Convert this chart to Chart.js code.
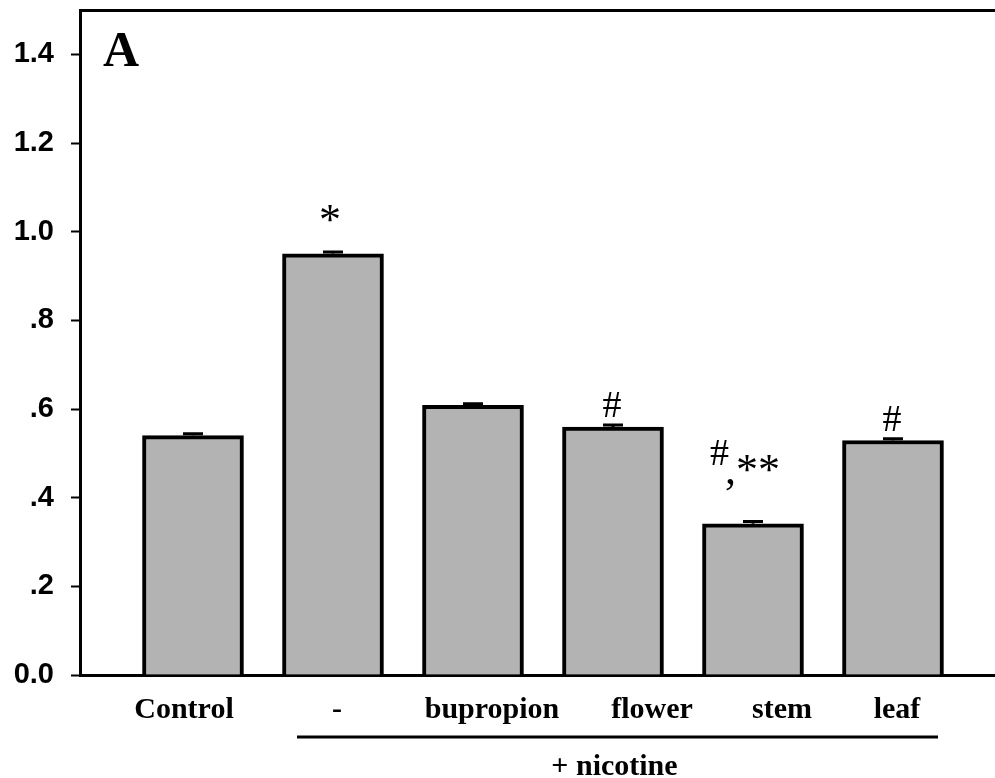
<!DOCTYPE html>
<html>
<head>
<meta charset="utf-8">
<script src="https://cdn.jsdelivr.net/npm/chart.js@4/dist/chart.umd.min.js"></script>
<style>
  html, body { margin: 0; padding: 0; background: #fff; }
  #wrap { width: 995px; height: 778px; }
</style>
</head>
<body>
<div id="wrap"><canvas id="c" width="995" height="778"></canvas></div>
<script>
// ---- data ----
const categories = ['Control', '-', 'bupropion', 'flower', 'stem', 'leaf'];
const values = [0.54, 0.95, 0.608, 0.559, 0.341, 0.529];
const errors = [0.004, 0.004, 0.004, 0.005, 0.005, 0.004];
const marks = ['', '*', '', '#', '#,**', '#'];
const yTicks = [0, 0.2, 0.4, 0.6, 0.8, 1.0, 1.2, 1.4];
const yTickLabels = ['0.0', '.2', '.4', '.6', '.8', '1.0', '1.2', '1.4'];
const panelLabel = 'A';
const groupLabel = '+ nicotine';

const SERIF = '"Liberation Serif", "Times New Roman", serif';
const SANS = '"Liberation Sans", Arial, sans-serif';
// layout: horizontal nudges (px) of category labels relative to their bars
const LABEL_NUDGE_PX = [-9, 4, 19, 39, 29, 4];
const PX_PER_UNIT = 140;

const decor = {
  id: 'decor',
  afterDatasetsDraw(chart) {
    const ctx = chart.ctx;
    const x = chart.scales.x, y = chart.scales.y;
    const ca = chart.chartArea;
    ctx.save();
    // error caps
    ctx.strokeStyle = '#000';
    ctx.lineWidth = 3;
    values.forEach((v, i) => {
      const px = x.getPixelForValue(i);
      const top = y.getPixelForValue(v + errors[i]);
      const base = y.getPixelForValue(v);
      ctx.beginPath();
      ctx.moveTo(px - 10, top);
      ctx.lineTo(px + 10, top);
      ctx.moveTo(px, top);
      ctx.lineTo(px, base);
      ctx.stroke();
    });
    // significance marks
    ctx.fillStyle = '#000';
    ctx.textBaseline = 'alphabetic';
    values.forEach((v, i) => {
      const m = marks[i];
      if (!m) return;
      const px = x.getPixelForValue(i);
      const top = y.getPixelForValue(v + errors[i]);
      if (m === '#,**') {
        ctx.textAlign = 'left';
        ctx.font = '38px ' + SERIF;
        ctx.fillText('#', px - 43, top - 57);
        ctx.font = '44px ' + SERIF;
        ctx.fillText(',**', px - 28, top - 38);
      } else if (m === '*') {
        ctx.textAlign = 'center';
        ctx.font = '44px ' + SERIF;
        ctx.fillText(m, px - 3, top - 18);
      } else {
        ctx.textAlign = 'center';
        ctx.font = '38px ' + SERIF;
        ctx.fillText(m, px - 1, top - 8);
      }
    });
    // panel label
    ctx.textAlign = 'left';
    ctx.font = 'bold 50px ' + SERIF;
    ctx.fillText(panelLabel, ca.left + 23, ca.top + 56);
    // group line and label
    const x1 = x.getPixelForValue(1) - 36;
    const x2 = x.getPixelForValue(5) + 45;
    ctx.lineWidth = 3;
    ctx.beginPath();
    ctx.moveTo(x1, ca.bottom + 62);
    ctx.lineTo(x2, ca.bottom + 62);
    ctx.stroke();
    ctx.textAlign = 'center';
    ctx.font = 'bold 30px ' + SERIF;
    ctx.fillText(groupLabel, (x1 + x2) / 2 - 3, ca.bottom + 100);
    ctx.restore();
  }
};

new Chart(document.getElementById('c'), {
  type: 'bar',
  data: {
    datasets: [{
      data: values.map((v, i) => ({ x: i, y: v })),
      backgroundColor: '#b3b3b3',
      borderColor: '#000',
      borderWidth: 4,
      borderSkipped: 'bottom',
      barThickness: 101
    }]
  },
  options: {
    responsive: false,
    devicePixelRatio: 1,
    animation: false,
    layout: { padding: { left: 0, right: 0, top: 0, bottom: 0 } },
    plugins: { legend: { display: false }, tooltip: { enabled: false } },
    scales: {
      x: {
        type: 'linear',
        position: 'bottom',
        min: -0.8071,
        max: 5.7286,
        offset: false,
        grid: { display: false, offset: false, drawTicks: false },
        border: { display: true, color: '#000', width: 3 },
        afterBuildTicks: (s) => { s.ticks = categories.map((c, i) => ({ value: i + LABEL_NUDGE_PX[i] / PX_PER_UNIT })); },
        afterFit: (s) => { s.height = 103; s.paddingLeft = 0; s.paddingRight = 0; },
        ticks: {
          autoSkip: false,
          maxRotation: 0,
          padding: 17,
          color: '#000',
          font: { family: SERIF, size: 30, weight: 'bold' },
          callback: (v, i) => categories[i]
        }
      },
      x2: {
        type: 'linear',
        position: 'top',
        min: 0, max: 1,
        grid: { display: false, drawTicks: false },
        border: { display: true, color: '#000', width: 3 },
        ticks: { display: false },
        afterFit: (s) => { s.height = 10; s.paddingLeft = 0; s.paddingRight = 0; }
      },
      y: {
        min: 0,
        max: 1.5,
        grid: { display: true, drawOnChartArea: false, drawTicks: true, tickLength: 9, tickWidth: 2, color: '#000' },
        border: { display: true, color: '#000', width: 3 },
        afterBuildTicks: (s) => { s.ticks = yTicks.map(v => ({ value: v })); },
        afterFit: (s) => { s.width = 80; s.paddingTop = 0; s.paddingBottom = 0; },
        ticks: {
          padding: 17,
          color: '#000',
          font: { family: SANS, size: 29, weight: 'bold' },
          callback: (v, i) => yTickLabels[i]
        }
      }
    }
  },
  plugins: [decor]
});
</script>
</body>
</html>
